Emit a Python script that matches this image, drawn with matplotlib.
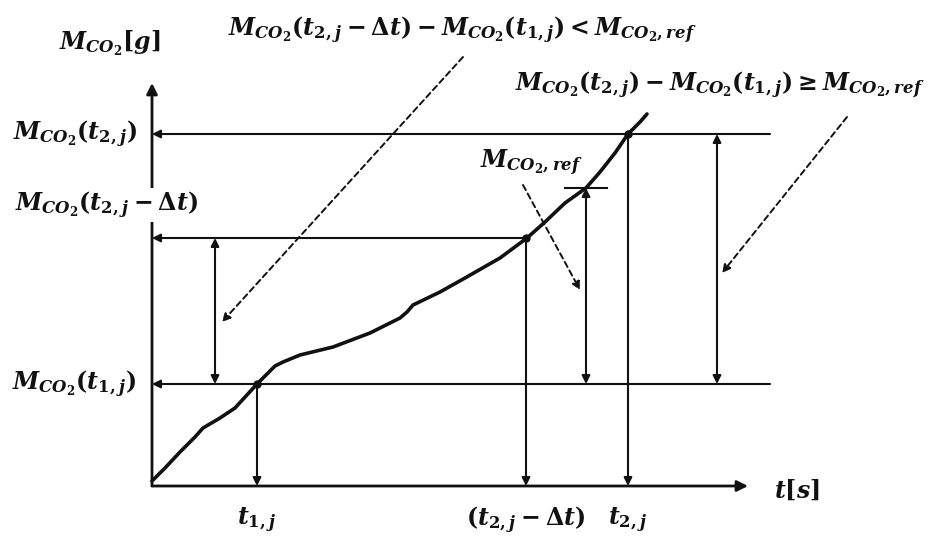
import matplotlib
matplotlib.use("Agg")
import matplotlib.pyplot as plt

# 数学字体：粗斜体衬线
plt.rcParams['mathtext.fontset'] = 'custom'
plt.rcParams['mathtext.it'] = 'DejaVu Serif:bold:italic'
plt.rcParams['mathtext.rm'] = 'DejaVu Serif:bold'
plt.rcParams['mathtext.bf'] = 'DejaVu Serif:bold'

# 关键时刻和质量水平（示意图单位）
t_1j = 105
t_2j_dt = 374
t_2j = 476
M_1j = 102
M_2j_dt = 248
M_ref = 298
M_2j = 352

# 累计 CO2 质量曲线
t_curve = [0, 13, 28, 43, 51, 68, 83, 105, 116, 123, 131, 148, 181, 218,
           248, 255, 261, 288, 313, 348, 375, 393, 413, 434, 448, 463, 476, 488, 495]
m_curve = [5, 18, 34, 49, 58, 68, 78, 102, 113, 120, 124, 131, 139, 153,
           168, 174, 181, 194, 208, 228, 248, 264, 283, 298, 314, 333, 352, 364, 372]

t_axis_end = 596
m_axis_end = 403

color = '#111111'

fig = plt.figure(figsize=(9.3, 5.37), dpi=100)
ax = fig.add_axes([0, 0, 1, 1])
ax.set_xlim(-152, 778)
ax.set_ylim(-51, 486)
ax.axis('off')


def arrow(x0, y0, x1, y1, style='-|>', lw=1.5, ls='-', ms=12):
    ax.annotate('', xy=(x1, y1), xytext=(x0, y0),
                arrowprops=dict(arrowstyle=style, color=color, lw=lw, ls=ls,
                                mutation_scale=ms, shrinkA=0, shrinkB=0))


# 坐标轴
arrow(0, 0, t_axis_end, 0, lw=2, ms=16)
arrow(0, 0, 0, m_axis_end, lw=2, ms=16)

# 水平参考线（箭头指向纵轴）
arrow(618, M_2j, 0, M_2j)
arrow(t_2j_dt, M_2j_dt, 0, M_2j_dt)
arrow(618, M_1j, 0, M_1j)

# 竖直投影线（箭头指向横轴）
arrow(t_1j, M_1j, t_1j, 0)
arrow(t_2j_dt, M_2j_dt, t_2j_dt, 0)
arrow(t_2j, M_2j, t_2j, 0)

# 双向差值箭头
arrow(63, M_1j, 63, M_2j_dt, style='<|-|>')
arrow(434, M_1j, 434, M_ref, style='<|-|>')
arrow(565, M_1j, 565, M_2j, style='<|-|>')
ax.plot([413, 455], [M_ref, M_ref], color=color, lw=1.5)

# 曲线和交点
ax.plot(t_curve, m_curve, color=color, lw=2.6, solid_capstyle='round')
ax.plot([t_1j, t_2j_dt, t_2j], [M_1j, M_2j_dt, M_2j], 'o', color=color, ms=5)

# 虚线指示
arrow(311, 429, 70, 164, ls=(0, (3, 2)), lw=1.4)
arrow(371, 301, 428, 196, ls=(0, (3, 2)), lw=1.4)
arrow(695, 369, 570, 213, ls=(0, (3, 2)), lw=1.4)

fs = 17
kw = dict(fontsize=fs, color=color)
ax.text(-42, 443, r'$M_{CO_2}[g]$', ha='center', va='center', **kw)
ax.text(-77, M_2j, r'$M_{CO_2}(t_{2,j})$', ha='center', va='center', **kw)
ax.text(-46, 281, r'$M_{CO_2}(t_{2,j}-\Delta t)$', ha='center', va='center',
        bbox=dict(fc='white', ec='none', pad=1), **kw)
ax.text(-78, M_1j, r'$M_{CO_2}(t_{1,j})$', ha='center', va='center', **kw)
ax.text(t_1j, -34, r'$t_{1,j}$', ha='center', va='center', **kw)
ax.text(t_2j_dt, -34, r'$(t_{2,j}-\Delta t)$', ha='center', va='center', **kw)
ax.text(t_2j, -34, r'$t_{2,j}$', ha='center', va='center', **kw)
ax.text(645, -4, r'$t[s]$', ha='center', va='center', **kw)
ax.text(310, 456, r'$M_{CO_2}(t_{2,j}-\Delta t)-M_{CO_2}(t_{1,j})<M_{CO_2,ref}$',
        ha='center', va='center', **kw)
ax.text(568, 401, r'$M_{CO_2}(t_{2,j})-M_{CO_2}(t_{1,j})\geq M_{CO_2,ref}$',
        ha='center', va='center', **kw)
ax.text(379, 323, r'$M_{CO_2,ref}$', ha='center', va='center', **kw)

fig.savefig('out.png', dpi=100, facecolor='white')
